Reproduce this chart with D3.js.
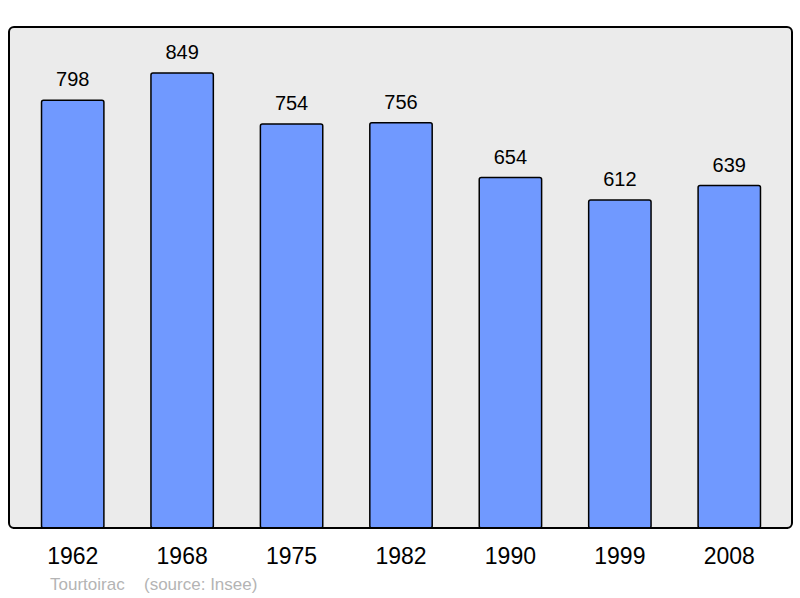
<!DOCTYPE html>
<html><head><meta charset="utf-8">
<script src="https://cdn.jsdelivr.net/npm/d3@7"></script>
<style>html,body{margin:0;padding:0;background:#fff;}</style>
</head><body>
<script>
const years = ["1962","1968","1975","1982","1990","1999","2008"];
const population = [798, 849, 754, 756, 654, 612, 639];
const commune = "Tourtoirac";
const source = "(source: Insee)";

const W = 800, H = 598;
const svg = d3.select("body").append("svg").attr("width", W).attr("height", H)
  .style("font-family", "'Liberation Sans', Arial, sans-serif");

const panel = {x0: 9, y0: 27, x1: 792, y1: 528};
svg.append("rect").attr("x", panel.x0).attr("y", panel.y0)
  .attr("width", panel.x1 - panel.x0).attr("height", panel.y1 - panel.y0)
  .attr("rx", 5).attr("fill", "#ebebeb").attr("stroke", "#000").attr("stroke-width", 2);

const x = d3.scaleBand().domain(years).range([18, 784]).paddingInner(0.43).paddingOuter(0.215);
const y = d3.scaleLinear().domain([0, d3.max(population)]).range([panel.y1, 73]);

const data = years.map((yr, i) => ({yr, v: population[i]}));

svg.selectAll("rect.bar").data(data).join("rect").attr("class", "bar")
  .attr("x", d => x(d.yr)).attr("y", d => y(d.v))
  .attr("width", x.bandwidth()).attr("height", d => y(0) - y(d.v))
  .attr("rx", 2).attr("fill", "#7099ff").attr("stroke", "#000").attr("stroke-width", 1.5);

// redraw panel bottom edge over bars
svg.append("line").attr("x1", panel.x0 + 4).attr("x2", panel.x1 - 4)
  .attr("y1", panel.y1).attr("y2", panel.y1).attr("stroke", "#000").attr("stroke-width", 2);

svg.selectAll("text.val").data(data).join("text").attr("class", "val")
  .attr("x", d => x(d.yr) + x.bandwidth() / 2).attr("y", d => y(d.v) - 14)
  .attr("text-anchor", "middle").attr("font-size", 20).attr("fill", "#000")
  .text(d => d.v);

svg.selectAll("text.yr").data(data).join("text").attr("class", "yr")
  .attr("x", d => x(d.yr) + x.bandwidth() / 2).attr("y", 564)
  .attr("text-anchor", "middle").attr("font-size", 23).attr("fill", "#000")
  .text(d => d.yr);

svg.append("text").attr("x", 50).attr("y", 590).attr("font-size", 17).attr("fill", "#b4b4b4")
  .text(commune);
svg.append("text").attr("x", 144).attr("y", 590).attr("font-size", 17).attr("fill", "#b4b4b4")
  .text(source);
</script>
</body></html>
